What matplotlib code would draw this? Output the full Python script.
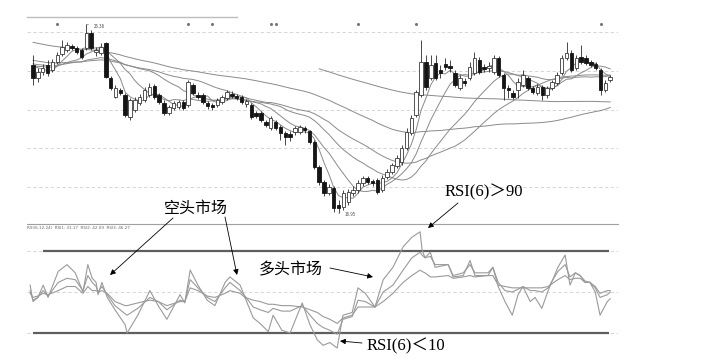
import matplotlib
matplotlib.use("Agg")
import matplotlib.pyplot as plt
import numpy as np
import pandas as pd

plt.rcParams['font.family'] = ['Noto Sans CJK SC', 'DejaVu Sans']

# closes before the first visible day, only used for the moving averages
hist_close = [26.90, 27.00, 26.85, 26.95, 26.80, 26.70, 26.85, 26.75, 26.65, 26.55,
              26.70, 26.60, 26.50, 26.40, 26.55, 26.45, 26.35, 26.25, 26.40, 26.30,
              26.20, 26.10, 26.25, 26.15, 26.05, 25.95, 26.10, 26.00, 25.90, 25.80,
              25.35, 25.20, 25.30, 25.10, 24.95, 25.05, 24.85, 24.75, 24.90, 24.70,
              24.60, 24.75, 24.55, 24.50, 24.65, 24.45, 24.40, 24.55, 24.35, 24.30,
              24.45, 24.35, 24.25, 24.40, 24.30, 24.45, 24.35, 24.50, 24.40, 24.45]

opens = [24.35, 23.70, 24.00, 24.35, 24.10, 24.50, 24.90, 25.10, 25.30, 25.20,
         25.10, 25.20, 25.95, 25.00, 24.95, 25.45, 23.70, 22.75, 23.10, 22.85,
         21.75, 22.10, 22.45, 22.60, 22.85, 23.30, 22.85, 22.45, 21.95, 22.20,
         22.25, 22.50, 22.35, 23.35, 22.85, 22.85, 22.45, 22.35, 22.35, 22.50,
         22.70, 22.90, 22.80, 22.75, 22.40, 22.35, 21.95, 21.95, 21.50, 21.20,
         21.50, 21.25, 20.95, 20.90, 21.00, 21.00, 21.20, 21.05, 20.50, 19.25,
         18.50, 17.95, 18.20, 17.35, 17.25, 17.50, 17.95, 18.10, 18.45, 18.70,
         18.55, 18.60, 18.10, 18.75, 19.00, 19.30, 19.50, 20.20, 20.95, 21.85,
         22.85, 24.50, 23.70, 24.45, 24.10, 24.40, 24.30, 23.95, 23.20, 23.55,
         23.70, 23.95, 24.60, 24.25, 24.20, 24.00, 24.70, 23.85, 23.20, 22.95,
         23.10, 23.35, 23.70, 23.20, 22.95, 23.25, 22.85, 23.20, 23.45, 23.95,
         24.70, 24.95, 24.20, 24.75, 24.70, 24.50, 24.40, 24.10, 23.10, 23.60]

closes = [23.70, 24.00, 24.20, 23.95, 24.50, 24.85, 25.25, 25.35, 25.20, 25.00,
          24.75, 25.95, 25.20, 25.10, 25.25, 23.75, 23.20, 23.20, 22.95, 21.85,
          22.60, 22.60, 22.75, 23.10, 23.25, 22.75, 22.50, 21.95, 22.25, 22.45,
          22.50, 22.20, 23.50, 22.95, 22.75, 22.50, 22.30, 22.25, 22.60, 22.75,
          23.00, 22.80, 22.70, 22.50, 22.55, 21.75, 21.80, 21.60, 21.35, 21.70,
          21.20, 20.95, 20.75, 20.75, 21.20, 21.25, 21.10, 20.50, 19.25, 18.50,
          17.95, 18.25, 17.20, 17.20, 17.95, 18.00, 18.10, 18.45, 18.70, 18.50,
          18.45, 18.00, 18.70, 19.00, 19.35, 19.70, 20.20, 21.00, 21.70, 23.00,
          24.50, 23.25, 24.35, 23.70, 23.95, 24.25, 24.20, 23.35, 23.70, 23.45,
          24.25, 24.70, 24.00, 24.15, 24.30, 24.70, 23.85, 23.20, 23.10, 22.75,
          23.50, 23.85, 23.20, 23.00, 23.25, 22.85, 23.20, 23.50, 23.85, 24.70,
          24.95, 24.10, 24.70, 24.50, 24.45, 24.35, 24.20, 23.10, 23.45, 23.75]

highs = [24.85, 24.20, 24.40, 24.60, 24.65, 25.00, 25.60, 25.50, 25.40, 25.30,
         25.20, 26.38, 26.10, 25.25, 25.45, 25.50, 23.80, 23.35, 23.20, 22.95,
         22.70, 22.75, 22.90, 23.25, 23.45, 23.40, 22.95, 22.60, 22.35, 22.55,
         22.60, 22.60, 23.60, 23.45, 23.00, 22.95, 22.55, 22.45, 22.70, 22.85,
         23.10, 23.05, 22.90, 22.85, 22.65, 22.45, 22.05, 22.05, 21.60, 21.80,
         21.60, 21.35, 21.05, 21.05, 21.30, 21.35, 21.30, 21.10, 20.60, 19.35,
         18.60, 18.40, 18.30, 17.60, 18.10, 18.15, 18.30, 18.60, 18.80, 18.80,
         18.65, 18.70, 18.85, 19.15, 19.45, 19.85, 20.35, 21.20, 21.85, 23.10,
         25.60, 24.85, 24.85, 24.85, 24.35, 24.70, 24.60, 24.10, 23.85, 23.70,
         24.50, 25.00, 24.75, 24.40, 24.50, 24.85, 24.80, 23.95, 23.35, 23.10,
         23.70, 24.10, 23.80, 23.30, 23.40, 23.35, 23.30, 23.60, 24.00, 24.85,
         25.50, 25.10, 24.85, 25.35, 24.85, 24.60, 24.50, 24.20, 23.60, 23.85]

lows = [23.35, 23.50, 23.85, 23.80, 24.00, 24.40, 24.80, 25.00, 25.10, 24.90,
        24.65, 25.10, 25.10, 24.80, 24.85, 23.70, 23.10, 22.70, 22.85, 21.75,
        21.60, 22.00, 22.35, 22.50, 22.75, 22.65, 22.40, 21.85, 21.85, 22.10,
        22.15, 22.10, 22.25, 22.85, 22.65, 22.40, 22.15, 22.10, 22.25, 22.40,
        22.60, 22.70, 22.60, 22.40, 22.25, 21.65, 21.70, 21.50, 21.25, 21.10,
        21.10, 20.60, 20.35, 20.55, 20.85, 20.90, 20.95, 20.40, 19.15, 18.35,
        17.80, 17.85, 17.00, 16.95, 17.10, 17.35, 17.80, 17.95, 18.30, 18.40,
        18.30, 17.90, 18.00, 18.65, 18.90, 19.20, 19.35, 20.10, 20.85, 21.75,
        22.75, 23.10, 23.60, 23.60, 23.70, 24.10, 24.00, 23.25, 23.10, 23.30,
        23.60, 23.85, 23.90, 24.00, 24.00, 23.90, 23.75, 22.60, 22.70, 22.65,
        22.70, 23.25, 23.10, 22.90, 22.85, 22.60, 22.70, 23.10, 23.35, 23.85,
        24.60, 24.00, 24.10, 24.40, 24.35, 24.25, 24.10, 22.85, 23.00, 23.50]

ma_windows = [5, 10, 20, 30, 60, 120]
grid_levels = [26.0, 24.05, 22.1, 20.2, 18.25]
event_days = [5, 32, 37, 49, 50, 67, 79, 117]

# RSI (day position, value)
rsi_pos = [-0.6, 0, 1.0, 2.1, 3.1, 5.2, 7.0, 8.7, 10.3, 11.3,
           12.2, 13.0, 13.4, 14.2, 15.3, 16.9, 19.0, 19.4, 21.6, 24.1,
           25.8, 27.6, 30.3, 31.3, 32.4, 34.0, 35.9, 37.5, 39.6, 40.6,
           42.7, 43.7, 45.4, 46.8, 48.5, 49.5, 51.3, 53.0, 55.5, 57.1,
           58.6, 59.8, 61.2, 62.7, 63.9, 65.8, 67.0, 68.5, 70.5, 72.2,
           74.2, 76.3, 78.1, 79.8, 80.2, 80.8, 81.9, 82.9, 85.6, 86.6,
           88.7, 90.1, 91.1, 93.8, 94.8, 95.9, 97.3, 98.8, 100.0, 101.0,
           102.5, 103.5, 104.9, 106.2, 108.2, 109.7, 110.7, 111.8, 112.8, 113.8,
           114.8, 115.9, 116.9, 118.4, 119.0]
rsi6 = [55, 43, 46, 55, 46, 65, 70, 64, 50, 70,
        60, 57, 48, 57, 46, 37, 26, 20, 33, 51,
        40, 30, 48, 42, 66, 55, 44, 40, 57, 61,
        55, 46, 31, 27, 21, 33, 22, 20, 42, 26,
        15, 11, 13, 9, 33, 35, 53, 49, 39, 59,
        68, 83, 90, 94, 81, 75, 79, 68, 70, 61,
        62, 73, 62, 62, 68, 54, 43, 33, 48, 54,
        43, 46, 38, 51, 68, 77, 55, 64, 62, 57,
        57, 50, 33, 43, 45]
rsi12 = [51, 44, 46, 51, 47, 57, 60, 59, 51, 62,
         57, 54, 50, 54, 48, 40, 34, 33, 38, 46,
         43, 37, 44, 43, 59, 53, 46, 43, 53, 57,
         51, 47, 39, 37, 35, 38, 36, 36, 40, 33,
         27, 24, 22, 19, 30, 32, 44, 43, 39, 50,
         55, 66, 75, 79, 77, 75, 76, 70, 70, 62,
         64, 70, 64, 64, 68, 57, 51, 50, 52, 54,
         51, 51, 50, 53, 65, 70, 61, 64, 62, 58,
         57, 53, 46, 48, 50]
rsi24 = [49, 46, 47, 49, 48, 51, 54, 54, 49, 54,
         51, 51, 50, 51, 49, 43, 40, 40, 42, 44,
         43, 40, 43, 43, 53, 51, 47, 46, 49, 51,
         49, 46, 44, 43, 41, 41, 40, 40, 39, 37,
         35, 32, 30, 27, 31, 33, 39, 39, 39, 43,
         49, 57, 62, 66, 65, 64, 61, 61, 62, 60,
         61, 62, 61, 62, 62, 55, 54, 53, 53, 53,
         53, 53, 53, 54, 59, 62, 59, 60, 60, 57,
         57, 54, 49, 51, 51]

W, H = 701, 361


def fp(x, y):
    # pixel position in the picture -> figure fraction
    return (x / W, 1 - y / H)


fig = plt.figure(figsize=(W / 100, H / 100), dpi=100)
ax = fig.add_axes([27 / W, 1 - 224 / H, 591 / W, 207 / H])
ax2 = fig.add_axes([27 / W, 1 - 355 / H, 591 / W, 131 / H])

n = len(closes)
x = np.arange(n)
o = np.array(opens)
c = np.array(closes)
hi = np.array(highs)
lo = np.array(lows)

# price panel
for g in grid_levels:
    ax.axhline(g, color='#cfcfcf', lw=0.6, ls=(0, (4, 3)), zorder=0)

full = pd.Series(hist_close + closes)
for w in ma_windows:
    ma = full.rolling(w).mean().values[len(hist_close):]
    ax.plot(x, ma, color='#8a8a8a', lw=0.7, zorder=1)

ax.vlines(x, lo, hi, color='#2a2a2a', lw=0.6, zorder=2)
up = c >= o
body = np.maximum(np.abs(c - o), 0.05)
bottom = np.minimum(o, c)
ax.bar(x[up], body[up], 0.72, bottom=bottom[up], facecolor='white',
       edgecolor='#3a3a3a', linewidth=0.6, zorder=3)
ax.bar(x[~up], body[~up], 0.72, bottom=bottom[~up], facecolor='#151515',
       edgecolor='#151515', linewidth=0.6, zorder=3)

ax.scatter(event_days, [26.4] * len(event_days), s=1.5, color='#777777', zorder=2)

ih = int(np.argmax(hi))
il = int(np.argmin(lo))
ax.annotate('%.2f' % hi[ih], xy=(ih, hi[ih]), xytext=(ih + 1.6, hi[ih] - 0.12),
            fontsize=3.2, color='#444444', va='center',
            arrowprops=dict(arrowstyle='-', lw=0.4, color='#666666'))
ax.annotate('%.2f' % lo[il], xy=(il, lo[il]), xytext=(il + 1.2, lo[il] - 0.05),
            fontsize=3.2, color='#444444', va='center',
            arrowprops=dict(arrowstyle='-', lw=0.4, color='#666666'))

ax.set_xlim(-1.24, 120.6)
ax.set_ylim(16.4, 26.75)
for s in ['top', 'left', 'right']:
    ax.spines[s].set_visible(False)
ax.spines['bottom'].set_color('#a0a0a0')
ax.spines['bottom'].set_linewidth(0.8)
ax.set_xticks([])
ax.set_yticks([])

fig.add_artist(plt.Line2D([27 / W, 237 / W], [1 - 17 / H, 1 - 17 / H],
                          color='#bdbdbd', lw=1.0))
fig.text(27 / W, 1 - 228 / H, 'RSI(6,12,24)  RSI1: 31.17  RSI2: 42.09  RSI3: 46.27',
         fontsize=3, color='#666666', va='center', family='DejaVu Sans')

# RSI panel
for lvl in [80, 50, 20]:
    ax2.axhline(lvl, color='#d0d0d0', lw=0.6, ls=(0, (4, 3)), zorder=0)
ax2.hlines(80, 2.06, 118.8, color='#5e5e5e', lw=1.6, zorder=1)
ax2.hlines(20, 0, 118.8, color='#5e5e5e', lw=1.6, zorder=1)

ax2.plot(rsi_pos, rsi24, color='#9a9a9a', lw=0.8, zorder=2)
ax2.plot(rsi_pos, rsi12, color='#9a9a9a', lw=0.8, zorder=2)
ax2.plot(rsi_pos, rsi6, color='#9a9a9a', lw=0.8, zorder=2)

ax2.set_xlim(-1.24, 120.6)
ax2.set_ylim(3.9, 99.7)
ax2.axis('off')

# notes and arrows
cn = ['Noto Sans CJK SC', 'DejaVu Sans']
rs = ['Liberation Serif', 'Noto Sans CJK SC']
fig.text(*fp(196, 208), '空头市场', fontsize=11.5, family=cn, ha='center', va='center')
fig.text(*fp(291, 270), '多头市场', fontsize=11.5, family=cn, ha='center', va='center')
fig.text(*fp(484, 192), 'RSI(6)＞90', fontsize=12, family=rs, ha='center', va='center')
fig.text(*fp(406, 346), 'RSI(6)＜10', fontsize=12, family=rs, ha='center', va='center')

arrows = [((173, 218), (110, 275)),
          ((225, 217), (237, 275)),
          ((330, 268), (373, 277)),
          ((458, 203), (428, 228)),
          ((362, 343), (340, 341))]
for start, end in arrows:
    fig.add_artist(matplotlib.patches.FancyArrowPatch(
        fp(*start), fp(*end), transform=fig.transFigure,
        arrowstyle='-|>', mutation_scale=8, lw=0.6, color='black',
        shrinkA=0, shrinkB=0))

fig.savefig('out.png', dpi=100)
